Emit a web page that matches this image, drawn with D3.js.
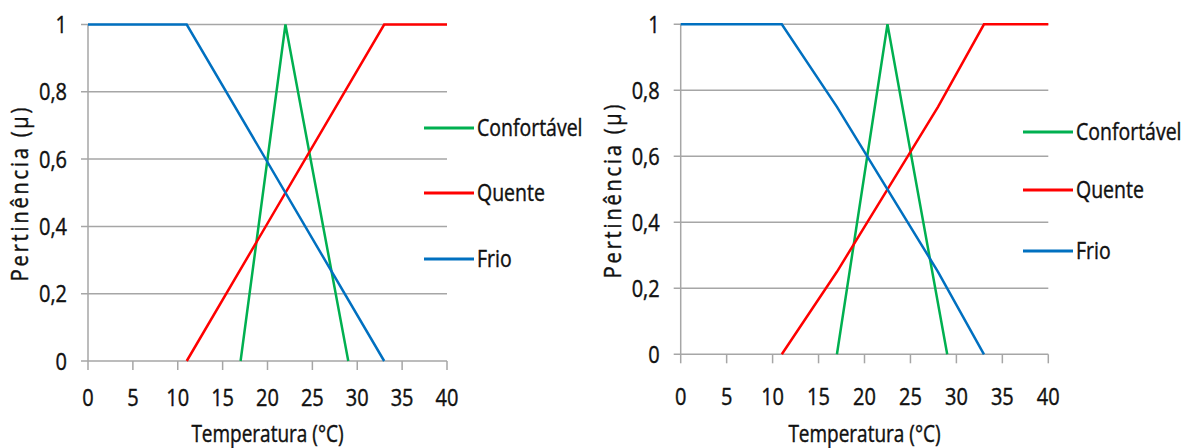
<!DOCTYPE html>
<html>
<head>
<meta charset="utf-8">
<script src="https://cdn.jsdelivr.net/npm/d3@7"></script>
<style>
body { margin: 0; background: #fff; }
svg text { font-family: "Open Sans", sans-serif; fill: #111; stroke: #111; stroke-width: 0.35px; }
</style>
</head>
<body>
<svg id="chart" width="1185" height="448"></svg>
<script>
// membership functions
var seriesNames = ['Confortável', 'Quente', 'Frio'];
var colors = ['#00b050', '#ff0000', '#0070c0'];

var leftConfortavel = [[17, 0], [22, 1], [29, 0]];
var leftQuente = [[11, 0], [33, 1], [40, 1]];
var leftFrio = [[0, 1], [11, 1], [33, 0]];

var rightConfortavel = [[17, 0], [22.5, 1], [29, 0]];
var rightQuente = [[11, 0], [17, 0.25], [22.5, 0.5], [28, 0.75], [33, 1], [40, 1]];
var rightFrio = [[0, 1], [11, 1], [17, 0.75], [22.5, 0.5], [28, 0.25], [33, 0]];

var xTicks = [0, 5, 10, 15, 20, 25, 30, 35, 40];
var yTicks = [0, 0.2, 0.4, 0.6, 0.8, 1];

var svg = d3.select('#chart');
var fmt = function(d) { return String(d).replace('.', ','); };
var sy = 1.2; // text in the picture is a bit taller than Open Sans

function pos(x, y, rot) {
  return 'translate(' + x + ',' + y + ')' + (rot ? ' rotate(' + rot + ')' : '') + ' scale(1,' + sy + ')';
}

function drawChart(opt) {
  var x = d3.scaleLinear().domain([0, 40]).range([opt.x0, opt.x1]);
  var y = d3.scaleLinear().domain([0, 1]).range([opt.y0, opt.y1]);
  var g = svg.append('g');

  // grid
  g.selectAll('line.grid')
    .data(yTicks)
    .enter()
    .append('line')
    .attr('x1', opt.x0 - 7).attr('x2', opt.x1)
    .attr('y1', function(d) { return y(d); })
    .attr('y2', function(d) { return y(d); })
    .attr('stroke', '#a6a6a6').attr('stroke-width', 1.5);

  // y axis line
  g.append('line')
    .attr('x1', opt.x0).attr('x2', opt.x0)
    .attr('y1', opt.y0).attr('y2', opt.y1)
    .attr('stroke', '#a6a6a6').attr('stroke-width', 1.5);

  // x ticks
  g.selectAll('line.xt')
    .data(xTicks)
    .enter()
    .append('line')
    .attr('x1', function(d) { return x(d); })
    .attr('x2', function(d) { return x(d); })
    .attr('y1', opt.y0).attr('y2', opt.y0 + 9)
    .attr('stroke', '#a6a6a6').attr('stroke-width', 1.5);

  g.selectAll('text.xl')
    .data(xTicks)
    .enter()
    .append('text')
    .attr('transform', function(d) { return pos(x(d), opt.xly); })
    .attr('text-anchor', 'middle')
    .attr('font-size', 20)
    .text(function(d) { return d; });

  g.selectAll('text.yl')
    .data(yTicks)
    .enter()
    .append('text')
    .attr('transform', function(d) { return pos(opt.x0 - 21, y(d) + 8.5); })
    .attr('text-anchor', 'end')
    .attr('font-size', 20)
    .text(fmt);

  g.append('text')
    .attr('transform', pos((opt.x0 + opt.x1) / 2, 442))
    .attr('text-anchor', 'middle')
    .attr('font-size', 19)
    .text('Temperatura (°C)');

  g.append('text')
    .attr('transform', pos(opt.x0 - 60, opt.ty, -90))
    .attr('text-anchor', 'middle')
    .attr('font-size', 20)
    .attr('letter-spacing', 2.8)
    .text('Pertinência (µ)');

  var line = d3.line()
    .x(function(d) { return x(d[0]); })
    .y(function(d) { return y(d[1]); });

  g.selectAll('path.s')
    .data(opt.series)
    .enter()
    .append('path')
    .attr('d', line)
    .attr('fill', 'none')
    .attr('stroke', function(d, i) { return colors[i]; })
    .attr('stroke-width', 2.5);

  var lg = g.selectAll('g.lg')
    .data(seriesNames)
    .enter()
    .append('g')
    .attr('transform', function(d, i) { return 'translate(' + opt.lx + ',' + opt.ly[i] + ')'; });
  lg.append('line')
    .attr('x1', 0).attr('x2', 50)
    .attr('stroke', function(d, i) { return colors[i]; })
    .attr('stroke-width', 3);
  lg.append('text')
    .attr('transform', pos(53, 8))
    .attr('font-size', 19.5)
    .text(function(d) { return d; });
}

drawChart({
  x0: 88, x1: 447, y0: 361, y1: 24.5, xly: 406, ty: 193,
  lx: 424, ly: [128, 193, 259],
  series: [leftConfortavel, leftQuente, leftFrio]
});
drawChart({
  x0: 680.7, x1: 1048.3, y0: 354.3, y1: 24.3, xly: 405, ty: 190,
  lx: 1023, ly: [132, 190, 251],
  series: [rightConfortavel, rightQuente, rightFrio]
});
</script>
</body>
</html>
